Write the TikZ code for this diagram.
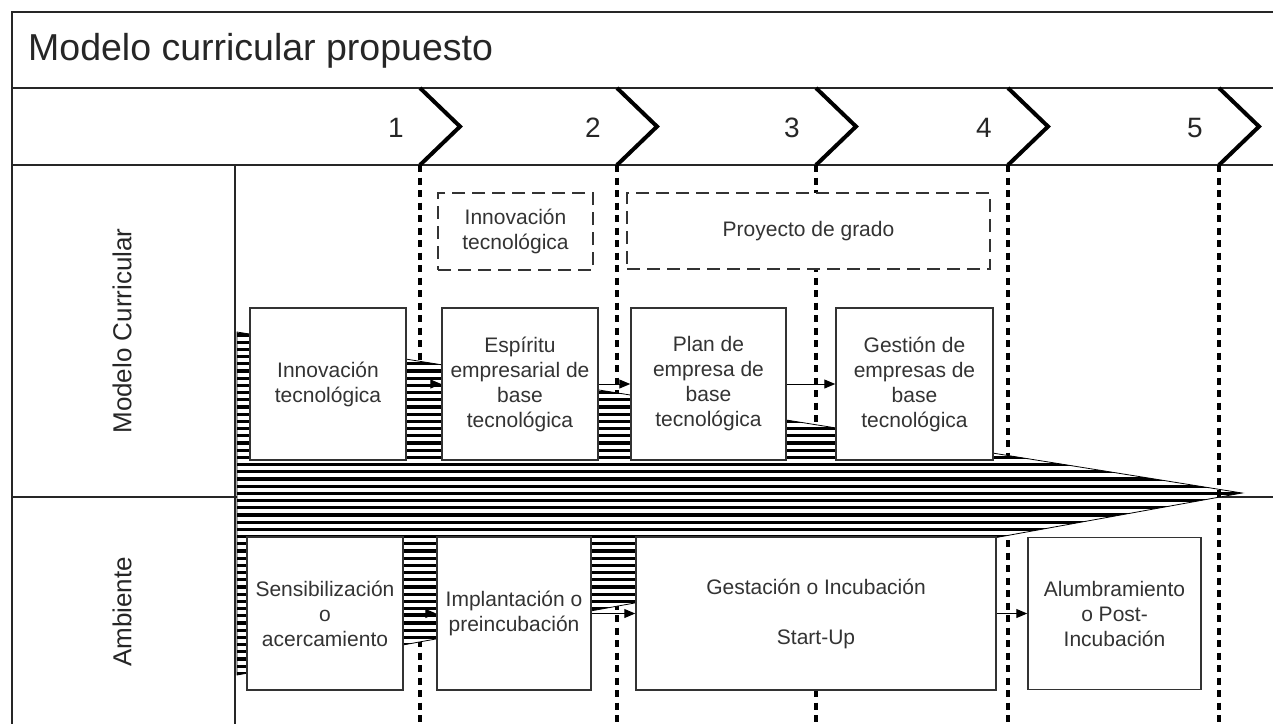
\documentclass[tikz,border=0pt]{standalone}
\usepackage{fontspec}
\setmainfont{Liberation Sans}
\usetikzlibrary{arrows.meta}
\begin{document}
\begin{tikzpicture}[x=1pt,y=-1pt,
  frame/.style={line width=2pt,draw=black!85},
  dotline/.style={line width=4pt,dash pattern=on 7pt off 5.5pt,draw=black},
  chev/.style={line width=4pt,draw=black,miter limit=10},
  stage/.style={draw=black!80,line width=1.5pt,fill=white,rectangle,inner sep=2pt,align=center,font=\fontsize{21}{25}\selectfont,text=black!80},
  course/.style={draw=black!80,line width=1.3pt,dash pattern=on 13pt off 7pt,fill=white,rectangle,inner sep=2pt,align=center,font=\fontsize{21}{25}\selectfont,text=black!80},
  arr/.style={-{Triangle[length=11pt,width=9pt]},line width=1pt,draw=black},
  num/.style={font=\fontsize{28}{30}\selectfont,anchor=base,text=black!85,inner sep=0pt},
  rowlabel/.style={font=\fontsize{26}{28}\selectfont,rotate=90,text=black!85},
  hline/.style={line width=3.3pt,draw=black},
]
\useasboundingbox (0,0) rectangle (1273,724);

% frame
\draw[frame] (1273,12) -- (12,12) -- (12,724);
\draw[frame] (12,88) -- (1273,88);
\draw[frame] (12,165) -- (1273,165);
\draw[frame] (235,165) -- (235,724);
\draw[frame] (12,497) -- (1273,497);

% phase boundaries (behind)
\foreach \x in {420,617,816,1008} \draw[dotline] (\x,165) -- (\x,724);

% big hatched arrow
\coordinate (tip) at (1242,493);
\coordinate (hTop) at (237,332);
\coordinate (hBot) at (237,675);
\fill[white] (hTop) -- (tip) -- (hBot) -- cycle;
\begin{scope}
  \clip (hTop) -- (tip) -- (hBot) -- cycle;
  \foreach \y in {335,342.2,...,676} \draw[hline] (230,\y) -- (1250,\y);
\end{scope}
\draw[line width=0.8pt] (hTop) -- (tip) -- (hBot) -- cycle;

\draw[dotline] (1219,165) -- (1219,724);

% dashed course boxes
\node[course,minimum width=155pt,minimum height=77pt] (D1) at (515.5,231.5) {Innovación\\tecnológica};
\node[course,minimum width=363pt,minimum height=76pt] (D2) at (808.5,231) {Proyecto de grado};

% curricular boxes
\node[stage,minimum width=156pt,minimum height=152pt] (U1) at (328,384) {Innovación\\tecnológica};
\node[stage,minimum width=156pt,minimum height=152pt] (U2) at (520,384) {Espíritu\\empresarial de\\base\\tecnológica};
\node[stage,minimum width=155pt,minimum height=152pt] (U3) at (708.5,384) {Plan de\\empresa de\\base\\tecnológica};
\node[stage,minimum width=157pt,minimum height=152pt] (U4) at (914.5,384) {Gestión de\\empresas de\\base\\tecnológica};

% environment boxes
\node[stage,minimum width=156pt,minimum height=153pt] (L1) at (325,613.5) {Sensibilización\\o\\acercamiento};
\node[stage,minimum width=154pt,minimum height=153pt] (L2) at (514,613.5) {Implantación o\\preincubación};
\node[stage,minimum width=360pt,minimum height=153pt] (L3) at (816,613.5) {Gestación o Incubación\\[25pt]Start-Up};
\node[stage,minimum width=173pt,minimum height=152pt] (L4) at (1114.5,613.5) {Alumbramiento\\o Post-\\Incubación};

% arrows
\draw[arr] (U1.east) -- (U2.west);
\draw[arr] (U2.east) -- (U3.west);
\draw[arr] (U3.east) -- (U4.west);
\draw[arr] (L1.east) -- (L2.west);
\draw[arr] (L2.east) -- (L3.west);
\draw[arr] (L3.east) -- (L4.west);

% chevrons and numbers
\foreach \x/\n in {420/1,617/2,816/3,1008/4,1219/5} {
  \draw[chev] (\x,88) -- (\x+40,126.5) -- (\x,165);
  \node[num] (n\n) at (\x-24,137) {\n};
}

% titles
\node[anchor=base west,font=\fontsize{37.5}{40}\selectfont,inner sep=0pt,text=black!85] (title) at (28,60) {Modelo curricular propuesto};
\node[rowlabel] (rowA) at (122,331) {Modelo Curricular};
\node[rowlabel] (rowB) at (122,612) {Ambiente};
\end{tikzpicture}
\end{document}
